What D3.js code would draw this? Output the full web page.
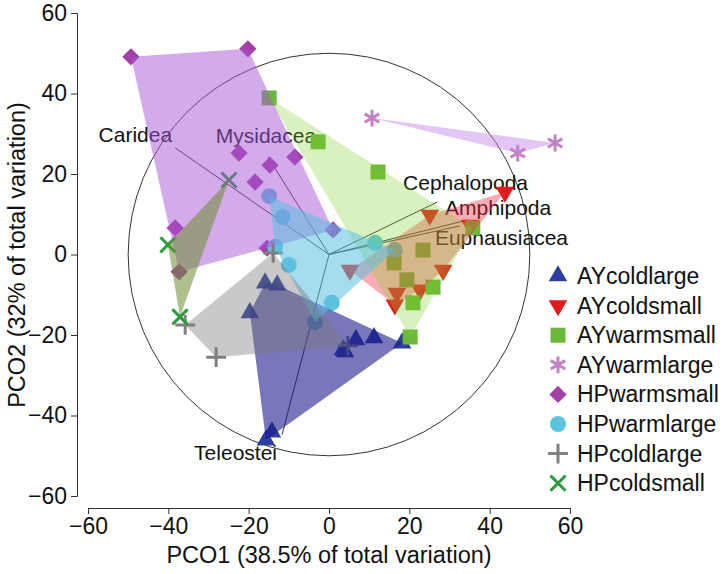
<!DOCTYPE html>
<html>
<head>
<meta charset="utf-8">
<title>PCO</title>
<script src="https://cdn.jsdelivr.net/npm/d3@7"></script>
<style>
  body { margin: 0; background: #fff; }
  text { font-family: "Liberation Sans", Arial, sans-serif; fill: #111; }
  .axis path, .axis line { stroke: #333; stroke-width: 1; }
  .axis text { font-size: 23px; fill: #111; }
</style>
</head>
<body>
<script>
// group names in legend order
var groups = ["AYcoldlarge", "AYcoldsmall", "AYwarmsmall", "AYwarmlarge",
              "HPwarmsmall", "HPwarmlarge", "HPcoldlarge", "HPcoldsmall"];

// scores (PCO1, PCO2)
var ayColdLarge = [[-19.7,-14.5],[-15.9,-7.1],[-12.9,-7.6],[3.5,-23.7],[4.0,-24.2],
                   [6.7,-21.2],[11.2,-20.7],[18.2,-22.0],[-14.2,-44.1],[-15.7,-46.1]];
var ayColdSmall = [[43.8,15.5],[25.1,9.8],[35.1,7.3],[28.4,-3.9],[5.2,-3.9],
                   [16.9,-9.6],[22.7,-8.8],[16.4,-12.5]];
var ayWarmSmall = [[-14.9,38.9],[-2.7,28.0],[12.2,20.5],[35.8,6.6],[23.4,1.1],
                   [16.2,-2.1],[19.4,-6.3],[25.9,-8.1],[20.9,-12.0],[20.2,-20.5]];
var ayWarmLarge = [[10.7,33.9],[47.0,25.2],[56.3,27.7]];
var hpWarmSmall = [[-49.3,49.1],[-20.2,51.1],[-22.4,25.2],[-8.5,24.2],[-14.7,22.2],
                   [-18.4,18.0],[-38.3,6.6],[-37.3,-4.3],[1.0,6.1],[-15.4,1.6]];
var hpWarmLarge = [[-14.9,14.5],[-11.5,9.3],[-13.4,1.9],[-10.0,-2.6],[-3.5,-16.8],
                   [0.7,-12.0],[11.5,2.9],[16.4,1.1]];
var hpColdLarge = [[-35.8,-17.5],[-28.1,-25.5],[-13.9,0.4],[4.7,-22.7]];
var hpColdSmall = [[-24.9,18.5],[-40.1,2.4],[-37.1,-15.5]];

// vector overlay (taxa)
var vectorNames = ["Caridea", "Mysidacea", "Cephalopoda", "Amphipoda", "Euphausiacea", "Teleostei"];
var vectorX = [-38.3, -15.2, 26.9, 34.6, 32.6, -11.7];
var vectorY = [26.5, 24.2, 13.0, 8.6, 7.1, -44.8];

var tickValues = [-60, -40, -20, 0, 20, 40, 60];
var circleRadius = 50;

var scores = [ayColdLarge, ayColdSmall, ayWarmSmall, ayWarmLarge,
              hpWarmSmall, hpWarmLarge, hpColdLarge, hpColdSmall];

// styling
var markColor = ["#2c3f9c", "#e31a1c", "#6cb83a", "#c382c6", "#a33fa6", "#5cc4dc", "#808080", "#2e9a3e"];
var fillColor = ["#1c1c8c", "#f03040", "#82d030", "#c27fea", "#a855d6", "#5bc0e0", "#777777", "#6e8c32"];
var fillAlpha = [0.6, 0.4, 0.3, 0.45, 0.5, 0.55, 0.4, 0.55];
var shapes = ["up", "down", "square", "asterisk", "diamond", "circle", "plus", "times"];
var labelOffset = [[-3, -6, "end"], [-2, -14, "middle"], [-34, -12, "start"],
                   [-23, -5, "start"], [-25, 19, "start"], [-5, 25, "end"]];

var width = 725, height = 574;

var x = d3.scaleLinear().domain([-60, 60]).range([88, 570]);
var y = d3.scaleLinear().domain([-60, 60]).range([496, 13]);

var svg = d3.select("body").append("svg")
    .attr("width", width)
    .attr("height", height);

// axes, detached from the plot region
svg.append("g")
    .attr("class", "axis")
    .attr("transform", "translate(0,508)")
    .call(d3.axisBottom(x).tickValues(tickValues).tickSize(6).tickPadding(4));

svg.append("g")
    .attr("class", "axis")
    .attr("transform", "translate(77,0)")
    .call(d3.axisLeft(y).tickValues(tickValues).tickSize(6).tickPadding(4));

svg.append("text")
    .attr("x", 329).attr("y", 563)
    .attr("text-anchor", "middle")
    .style("font-size", "23.5px")
    .text("PCO1 (38.5% of total variation)");

svg.append("text")
    .attr("transform", "translate(25,255) rotate(-90)")
    .attr("text-anchor", "middle")
    .style("font-size", "23.5px")
    .text("PCO2 (32% of total variation)");

// correlation circle and vectors
svg.append("ellipse")
    .attr("cx", x(0)).attr("cy", y(0))
    .attr("rx", x(circleRadius) - x(0))
    .attr("ry", y(0) - y(circleRadius))
    .attr("fill", "none")
    .attr("stroke", "#333")
    .attr("stroke-width", 1);

svg.selectAll("line.vec")
    .data(vectorNames)
    .enter().append("line")
    .attr("class", "vec")
    .attr("x1", x(0)).attr("y1", y(0))
    .attr("x2", function(d, i){ return x(vectorX[i]); })
    .attr("y2", function(d, i){ return y(vectorY[i]); })
    .attr("stroke", "#333")
    .attr("stroke-width", 1);

svg.selectAll("text.vec")
    .data(vectorNames)
    .enter().append("text")
    .attr("class", "vec")
    .attr("x", function(d, i){ return x(vectorX[i]) + labelOffset[i][0]; })
    .attr("y", function(d, i){ return y(vectorY[i]) + labelOffset[i][1]; })
    .attr("text-anchor", function(d, i){ return labelOffset[i][2]; })
    .style("font-size", "21px")
    .text(function(d){ return d; });

function symbolPath(shape){
    if (shape === "up") return d3.symbol(d3.symbolTriangle, 150)();
    if (shape === "down") return d3.symbol(d3.symbolTriangle, 150)();
    if (shape === "square") return d3.symbol(d3.symbolSquare, 225)();
    if (shape === "diamond") return d3.symbol(d3.symbolSquare, 150)();
    if (shape === "circle") return d3.symbol(d3.symbolCircle, 200)();
    if (shape === "plus") return d3.symbol(d3.symbolPlus, 130)();
    if (shape === "times") return d3.symbol(d3.symbolTimes, 150)();
    return d3.symbol(d3.symbolAsterisk, 200)();
}

function drawMark(sel, g){
    var shape = shapes[g];
    var stroked = (shape === "plus" || shape === "times" || shape === "asterisk");
    sel.attr("d", symbolPath(shape))
        .attr("fill", stroked ? "none" : markColor[g])
        .attr("stroke", stroked ? markColor[g] : "none")
        .attr("stroke-width", stroked ? 3 : 0);
}

function rot(shape){
    if (shape === "down") return " rotate(180)";
    if (shape === "diamond") return " rotate(45)";
    return "";
}

// points first, hulls drawn over them
scores.forEach(function(pts, g){
    svg.append("g").selectAll("path")
        .data(pts)
        .enter().append("path")
        .attr("transform", function(d){
            return "translate(" + x(d[0]) + "," + y(d[1]) + ")" + rot(shapes[g]);
        })
        .call(drawMark, g);
});

scores.forEach(function(pts, g){
    var hull = d3.polygonHull(pts.map(function(d){ return [x(d[0]), y(d[1])]; }));
    svg.append("path")
        .attr("d", "M" + hull.join("L") + "Z")
        .attr("fill", fillColor[g])
        .attr("fill-opacity", fillAlpha[g])
        .attr("stroke", "none");
});

// legend
var legend = svg.append("g").attr("transform", "translate(558,276)");
groups.forEach(function(name, g){
    var row = legend.append("g").attr("transform", "translate(0," + (g * 29.6) + ")");
    row.append("path")
        .attr("transform", "translate(0,0)" + rot(shapes[g]))
        .call(drawMark, g);
    row.append("text")
        .attr("x", 19).attr("y", 8)
        .style("font-size", "23px")
        .text(name);
});
</script>
</body>
</html>
